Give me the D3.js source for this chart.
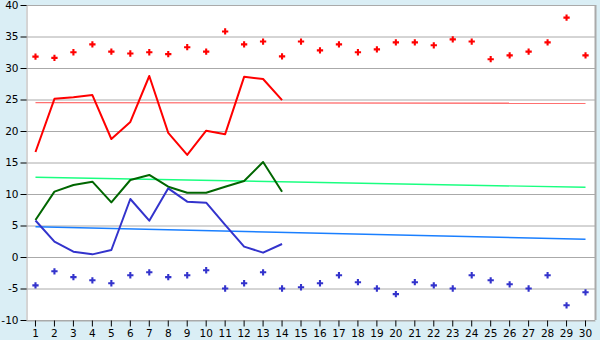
<!DOCTYPE html>
<html><head><meta charset="utf-8">
<script src="https://cdn.jsdelivr.net/npm/d3@7"></script>
<style>html,body{margin:0;padding:0;background:#daeef5;}svg{display:block;}</style>
</head><body>
<svg id="c" width="600" height="340"></svg>
<script>
const days = d3.range(1, 31).map(String);
const redPoints = [31.8,31.6,32.5,33.75,32.6,32.3,32.5,32.2,33.3,32.6,35.8,33.75,34.2,31.85,34.2,32.8,33.75,32.5,32.95,34.07,34.07,33.6,34.55,34.2,31.4,32.0,32.6,34.07,38.0,32.0];
const bluePoints = [-4.5,-2.27,-3.2,-3.7,-4.17,-2.9,-2.43,-3.2,-2.9,-2.1,-5.0,-4.17,-2.43,-5.0,-4.8,-4.17,-2.9,-4.0,-5.0,-5.9,-4.0,-4.5,-5.0,-2.9,-3.7,-4.33,-5.0,-2.9,-7.67,-5.6];
const redLine = [16.67,25.1,25.35,25.7,18.73,21.43,28.73,19.7,16.2,20.05,19.5,28.6,28.25,24.9];
const greenLine = [5.87,10.37,11.43,11.96,8.68,12.22,13.02,11.16,10.2,10.2,11.16,12.06,15.08,10.37];
const blueLine = [5.8,2.43,0.85,0.42,1.11,9.21,5.77,10.9,8.78,8.62,5.1,1.64,0.69,2.06];
const redTrend = [24.5,24.4];
const greenTrend = [12.65,11.06];
const blueTrend = [4.81,2.81];
const yTicks = [-10,-5,0,5,10,15,20,25,30,35,40];

const svg = d3.select("#c");
const L = 26, R = 595, T = 5, B = 320;
const x = d3.scaleBand().domain(days).range([L, R]).padding(0);
const cx = d => x(d) + x.bandwidth() / 2;
const y = d3.scaleLinear().domain([-10, 40]).range([B, T]);

svg.append("rect").attr("x", L).attr("y", T).attr("width", R - L).attr("height", B - T).attr("fill", "#fff");

// grid
svg.append("g").selectAll("line").data(yTicks).join("line")
  .attr("x1", L).attr("x2", R).attr("y1", d => y(d) + 0.5).attr("y2", d => y(d) + 0.5)
  .attr("stroke", "#aaaaaa").attr("stroke-width", 1);
svg.append("line").attr("x1", R + 0.5).attr("x2", R + 0.5).attr("y1", T).attr("y2", B)
  .attr("stroke", "#aaaaaa").attr("stroke-width", 2);

// axes
const yAxis = d3.axisLeft(y).tickValues(yTicks).tickFormat(d => String(d)).tickSize(6).tickSizeOuter(0).tickPadding(2);
const gy = svg.append("g").attr("transform", `translate(${L + 0.5},0)`).call(yAxis);
const xAxis = d3.axisBottom(x).tickSize(6).tickSizeOuter(0).tickPadding(3);
const gx = svg.append("g").attr("transform", `translate(0,${B + 0.5})`).call(xAxis);
[gy, gx].forEach(g => {
  g.selectAll("text").attr("font-family", "DejaVu Sans, Verdana, sans-serif").attr("font-size", 10.5).attr("fill", "#000");
  g.selectAll("line").attr("stroke", "#000");
  g.select(".domain").attr("stroke", "#aaaaaa");
});

// trend lines
const trends = [[redTrend, "#ff7070"], [greenTrend, "#1aff80"], [blueTrend, "#1a7fff"]];
trends.forEach(([t, c]) => {
  svg.append("line")
    .attr("x1", cx(days[0])).attr("x2", cx(days[days.length - 1]))
    .attr("y1", y(t[0])).attr("y2", y(t[1]))
    .attr("stroke", c).attr("stroke-width", 1.4);
});

// lines
const line = d3.line().x((d, i) => cx(days[i])).y(d => y(d));
[[redLine, "#ff0000"], [greenLine, "#006600"], [blueLine, "#3333cc"]].forEach(([data, c]) => {
  svg.append("path").attr("d", line(data)).attr("fill", "none")
    .attr("stroke", c).attr("stroke-width", 2).attr("stroke-linejoin", "round");
});

// point markers
const sym = d3.symbol().type(d3.symbolCross).size(22);
[[redPoints, "#ff0000"], [bluePoints, "#3333cc"]].forEach(([data, c]) => {
  svg.append("g").selectAll("path").data(data).join("path")
    .attr("transform", (d, i) => `translate(${cx(days[i])},${y(d)})`)
    .attr("d", sym).attr("fill", c);
});
</script>
</body></html>
